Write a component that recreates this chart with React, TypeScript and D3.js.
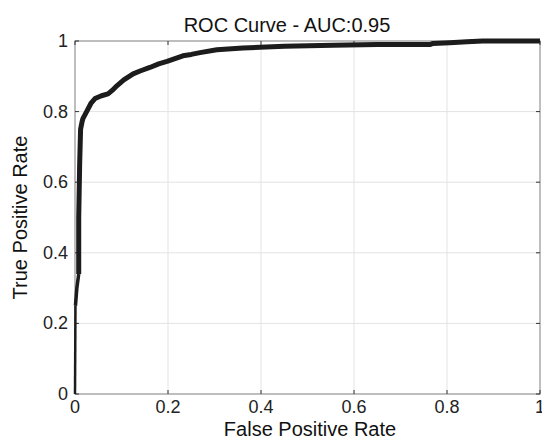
import * as d3 from "d3";

const WIDTH = 542;
const HEIGHT = 440;
const MARGIN = { top: 41, right: 2, bottom: 46, left: 75 };

const TITLE = "ROC Curve - AUC:0.95";
const X_LABEL = "False Positive Rate";
const Y_LABEL = "True Positive Rate";

const TICKS = [0, 0.2, 0.4, 0.6, 0.8, 1];

const FPR = [
  0, 0.001, 0.004, 0.008, 0.008, 0.01, 0.012, 0.015, 0.017, 0.025, 0.035, 0.043, 0.057, 0.071,
  0.08, 0.09, 0.105, 0.125, 0.14, 0.161, 0.18, 0.198, 0.215, 0.232, 0.25, 0.269, 0.305, 0.361,
  0.45, 0.555, 0.65, 0.763, 0.77, 0.806, 0.843, 0.877, 1.0,
];
const TPR = [
  0, 0.25, 0.3, 0.34, 0.5, 0.65, 0.75, 0.77, 0.78, 0.8, 0.825, 0.837, 0.845, 0.85, 0.86, 0.873,
  0.89, 0.907, 0.915, 0.925, 0.935, 0.942, 0.95, 0.958, 0.962, 0.967, 0.975, 0.98, 0.985, 0.988,
  0.99, 0.99, 0.993, 0.995, 0.998, 1.0, 1.0,
];

const FONT = "'Liberation Sans', Arial, Helvetica, sans-serif";

export default function App() {
  const x = d3
    .scaleLinear()
    .domain([0, 1])
    .range([MARGIN.left, WIDTH - MARGIN.right]);
  const y = d3
    .scaleLinear()
    .domain([0, 1])
    .range([HEIGHT - MARGIN.bottom, MARGIN.top]);

  const points = FPR.map((f, i) => [f, TPR[i]] as [number, number]);
  const line = d3
    .line<[number, number]>()
    .x((d) => x(d[0]))
    .y((d) => y(d[1]));

  // the sparse bottom of the curve is drawn thinner, like the original
  const lowPart = points.slice(0, 2);
  const midPart = points.slice(1, 4);
  const mainPart = points.slice(3);

  const x0 = x(0);
  const x1 = x(1);
  const y0 = y(0);
  const y1 = y(1);

  return (
    <svg
      width={WIDTH}
      height={HEIGHT}
      style={{ position: "absolute", left: 0, top: 0, background: "#fff" }}
      fontFamily={FONT}
    >
      {/* grid */}
      {TICKS.map((t) => (
        <g key={`g-${t}`}>
          <line x1={x(t)} x2={x(t)} y1={y0} y2={y1} stroke="#e3e3e3" strokeWidth={1} />
          <line x1={x0} x2={x1} y1={y(t)} y2={y(t)} stroke="#e3e3e3" strokeWidth={1} />
        </g>
      ))}

      {/* box */}
      <rect x={x0} y={y1} width={x1 - x0} height={y0 - y1} fill="none" stroke="#8c8c8c" strokeWidth={1} />

      {/* ticks */}
      {TICKS.map((t) => (
        <g key={`t-${t}`} stroke="#333" strokeWidth={1}>
          <line x1={x(t)} x2={x(t)} y1={y0} y2={y0 - 4} />
          <line x1={x(t)} x2={x(t)} y1={y1} y2={y1 + 4} />
          <line x1={x0} x2={x0 + 4} y1={y(t)} y2={y(t)} />
          <line x1={x1} x2={x1 - 4} y1={y(t)} y2={y(t)} />
        </g>
      ))}

      <path d={line(lowPart) || ""} fill="none" stroke="#1c1c1c" strokeWidth={2.5} />
      <path d={line(midPart) || ""} fill="none" stroke="#1c1c1c" strokeWidth={3.5} strokeLinejoin="round" />
      <path
        d={line(mainPart) || ""}
        fill="none"
        stroke="#1c1c1c"
        strokeWidth={5}
        strokeLinejoin="round"
        strokeLinecap="butt"
      />

      {/* tick labels */}
      {TICKS.map((t) => (
        <text key={`xl-${t}`} x={x(t)} y={y0 + 19} textAnchor="middle" fontSize={18} fill="#222">
          {String(t)}
        </text>
      ))}
      {TICKS.map((t) => (
        <text key={`yl-${t}`} x={x0 - 7} y={y(t) + 6} textAnchor="end" fontSize={18} fill="#222">
          {String(t)}
        </text>
      ))}

      <text x={287} y={32} textAnchor="middle" fontSize={20} fill="#111">
        {TITLE}
      </text>
      <text x={310} y={436} textAnchor="middle" fontSize={20} fill="#111">
        {X_LABEL}
      </text>
      <text
        transform={`translate(27 ${(y0 + y1) / 2}) rotate(-90)`}
        textAnchor="middle"
        fontSize={20}
        fill="#111"
      >
        {Y_LABEL}
      </text>
    </svg>
  );
}
